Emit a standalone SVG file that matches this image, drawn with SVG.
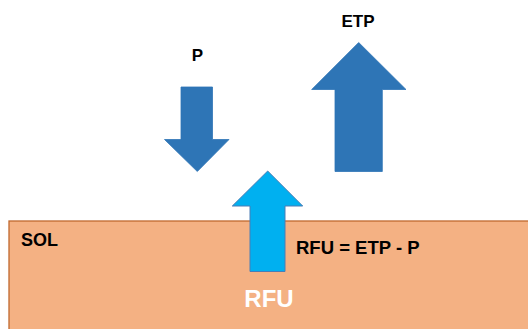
<svg xmlns="http://www.w3.org/2000/svg" width="528" height="329" viewBox="0 0 528 329">
<style>
.lbl{font-family:"Liberation Sans",Arial,sans-serif;font-weight:bold;fill:#000}
.dark{fill:#2e75b6;stroke:#2e75b6;stroke-width:0.8}
</style>
<rect width="528" height="329" fill="#ffffff"/>
<g id="sol">
<rect x="9" y="221" width="530" height="120" fill="#f4b183" stroke="#c0692e" stroke-width="1.3"/>
<text class="lbl" x="21" y="246" font-size="18">SOL</text>
<text x="269" y="307" font-size="24" text-anchor="middle" font-family="Liberation Sans, Arial, sans-serif" font-weight="bold" fill="#ffffff">RFU</text>
<text class="lbl" x="296" y="254" font-size="18.5">RFU = ETP - P</text>
</g>
<g id="p">
<text class="lbl" x="197.5" y="61" font-size="17" text-anchor="middle">P</text>
<polygon class="dark" points="181,87 212.5,87 212.5,139.5 229,139.5 197.3,171.5 164.5,139.5 181,139.5"/>
</g>
<g id="etp">
<text class="lbl" x="358" y="27" font-size="17" text-anchor="middle">ETP</text>
<polygon class="dark" points="358.7,42.5 406,89.5 382.3,89.5 382.3,171.5 335,171.5 335,89.5 311.7,89.5"/>
</g>
<g id="rfu-arrow">
<polygon points="267.7,171 302.7,206 285,206 285,271.5 250,271.5 250,206 232.3,206" fill="#00b0f0" stroke="#4a7db5" stroke-width="1"/>
</g>
<g id="connectors"></g>
</svg>
